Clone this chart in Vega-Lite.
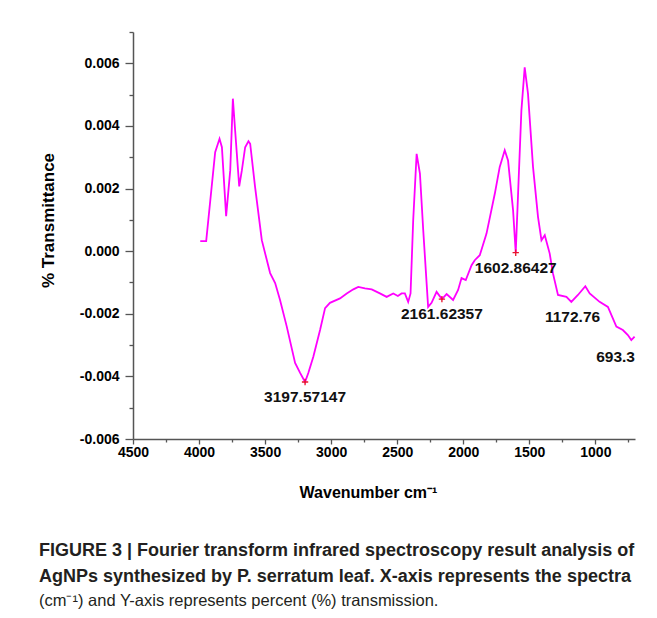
{
  "$schema": "https://vega.github.io/schema/vega-lite/v6.json",
  "autosize": {"type": "none"},
  "width": 502,
  "height": 407,
  "padding": {"left": 133, "top": 32, "right": 22, "bottom": 179},
  "background": "white",
  "config": {"view": {"stroke": null}},
  "title": {
    "text": ["FIGURE 3 | Fourier transform infrared spectroscopy result analysis of", "AgNPs synthesized by P. serratum leaf. X-axis represents the spectra"],
    "subtitle": "(cm⁻¹) and Y-axis represents percent (%) transmission.",
    "orient": "bottom",
    "anchor": "start",
    "font": "Liberation Sans",
    "fontSize": 18,
    "fontWeight": "bold",
    "color": "#231f20",
    "lineHeight": 26,
    "offset": 42,
    "subtitleFont": "Liberation Sans",
    "subtitleFontSize": 16.5,
    "subtitleColor": "#231f20",
    "subtitleLineHeight": 26,
    "subtitlePadding": 7
  },
  "resolve": {"axis": {"x": "independent", "y": "independent"}},
  "datasets": {
    "spectrum": [
      {"wn": 3991, "t": 0.00032}, {"wn": 3946, "t": 0.00032}, {"wn": 3878, "t": 0.00316}, {"wn": 3845, "t": 0.00359},
      {"wn": 3827, "t": 0.00332}, {"wn": 3795, "t": 0.00112}, {"wn": 3764, "t": 0.00258}, {"wn": 3744, "t": 0.00487},
      {"wn": 3727, "t": 0.00386}, {"wn": 3696, "t": 0.00207}, {"wn": 3676, "t": 0.00258}, {"wn": 3651, "t": 0.00332},
      {"wn": 3626, "t": 0.00351}, {"wn": 3613, "t": 0.00343}, {"wn": 3576, "t": 0.00205}, {"wn": 3525, "t": 0.00035},
      {"wn": 3462, "t": -0.0007}, {"wn": 3424, "t": -0.00102}, {"wn": 3387, "t": -0.00156}, {"wn": 3336, "t": -0.00241},
      {"wn": 3273, "t": -0.00357}, {"wn": 3235, "t": -0.00389}, {"wn": 3197.57, "t": -0.00418}, {"wn": 3173, "t": -0.00389},
      {"wn": 3135, "t": -0.00337}, {"wn": 3084, "t": -0.00252}, {"wn": 3046, "t": -0.00182}, {"wn": 3009, "t": -0.00165},
      {"wn": 2933, "t": -0.00151}, {"wn": 2882, "t": -0.00135}, {"wn": 2832, "t": -0.00122}, {"wn": 2795, "t": -0.00114},
      {"wn": 2744, "t": -0.00119}, {"wn": 2693, "t": -0.00122}, {"wn": 2631, "t": -0.00135}, {"wn": 2580, "t": -0.00146},
      {"wn": 2530, "t": -0.00135}, {"wn": 2495, "t": -0.00143}, {"wn": 2467, "t": -0.00135}, {"wn": 2442, "t": -0.00135},
      {"wn": 2417, "t": -0.00162}, {"wn": 2399, "t": -0.00135}, {"wn": 2379, "t": 0.00099}, {"wn": 2353, "t": 0.00311},
      {"wn": 2328, "t": 0.00248}, {"wn": 2303, "t": 0.00067}, {"wn": 2266, "t": -0.00178}, {"wn": 2240, "t": -0.00165},
      {"wn": 2202, "t": -0.0013}, {"wn": 2161.62, "t": -0.00153}, {"wn": 2126, "t": -0.00137}, {"wn": 2077, "t": -0.00156},
      {"wn": 2039, "t": -0.00124}, {"wn": 2013, "t": -0.00086}, {"wn": 1981, "t": -0.00092}, {"wn": 1937, "t": -0.00045},
      {"wn": 1913, "t": -0.00029}, {"wn": 1875, "t": -0.00013}, {"wn": 1824, "t": 0.00056}, {"wn": 1761, "t": 0.00184},
      {"wn": 1724, "t": 0.00269}, {"wn": 1686, "t": 0.00322}, {"wn": 1661, "t": 0.0029}, {"wn": 1623, "t": 0.00131},
      {"wn": 1602.86, "t": -0.00005}, {"wn": 1585, "t": 0.00184}, {"wn": 1560, "t": 0.00449}, {"wn": 1535, "t": 0.00587},
      {"wn": 1510, "t": 0.00503}, {"wn": 1472, "t": 0.00269}, {"wn": 1434, "t": 0.00109}, {"wn": 1408, "t": 0.00035},
      {"wn": 1383, "t": 0.00051}, {"wn": 1346, "t": -0.00007}, {"wn": 1321, "t": -0.00071}, {"wn": 1283, "t": -0.0014},
      {"wn": 1219, "t": -0.00146}, {"wn": 1182, "t": -0.00162}, {"wn": 1132, "t": -0.0014}, {"wn": 1076, "t": -0.00112},
      {"wn": 1043, "t": -0.00135}, {"wn": 968, "t": -0.00162}, {"wn": 905, "t": -0.00178}, {"wn": 841, "t": -0.00241},
      {"wn": 792, "t": -0.00252}, {"wn": 754, "t": -0.00268}, {"wn": 728, "t": -0.00284}, {"wn": 703, "t": -0.00273}
    ],
    "peaks": [
      {"wn": 3197.57, "t": -0.00418, "label": "3197.57147"},
      {"wn": 2161.62, "t": -0.00153, "label": "2161.62357"},
      {"wn": 1602.86, "t": -0.00005, "label": "1602.86427"}
    ],
    "labels": [
      {"wn": 3197.57, "t": -0.00418, "label": "3197.57147"},
      {"wn": 2161.62, "t": -0.00153, "label": "2161.62357"},
      {"wn": 1602.86, "t": -0.00005, "label": "1602.86427"},
      {"wn": 1172.76, "t": -0.00163, "label": "1172.76"}
    ],
    "endlabel": [
      {"wn": 700, "t": -0.00285, "label": "693.3"}
    ]
  },
  "layer": [
    {
      "data": {"name": "spectrum"},
      "mark": {"type": "line", "color": "#ff00ff", "strokeWidth": 1.8},
      "encoding": {
        "x": {
          "field": "wn", "type": "quantitative", "sort": null,
          "scale": {"domain": [4500, 700], "nice": false, "zero": false},
          "axis": {
            "orient": "bottom",
            "title": "Wavenumber cm⁻¹",
            "titleFont": "Liberation Sans", "titleFontSize": 16, "titleFontWeight": "bold", "titleColor": "black",
            "titleX": 235, "titleY": 58, "titleBaseline": "alphabetic", "titleAlign": "center",
            "values": [4500, 4000, 3500, 3000, 2500, 2000, 1500, 1000],
            "format": "d",
            "labelFont": "Liberation Sans", "labelFontSize": 14, "labelFontWeight": "bold", "labelColor": "black",
            "labelPadding": 1, "labelOverlap": false, "labelFlush": false,
            "tickSize": 5,
            "tickColor": "#555555", "tickWidth": 1.3,
            "domainColor": "#555555", "domainWidth": 1.5, "grid": false
          }
        },
        "y": {
          "field": "t", "type": "quantitative",
          "scale": {"domain": [-0.006, 0.007], "nice": false, "zero": false},
          "axis": {
            "orient": "left",
            "title": "% Transmittance",
            "titleFont": "Liberation Sans", "titleFontSize": 17, "titleFontWeight": "bold", "titleColor": "black",
            "titleX": -80, "titleY": 188, "titleBaseline": "alphabetic", "titleAlign": "center", "titleAngle": -90,
            "values": [-0.006, -0.004, -0.002, 0, 0.002, 0.004, 0.006],
            "labelExpr": "replace(format(datum.value, '.3f'), '−', '-')",
            "labelFont": "Liberation Sans", "labelFontSize": 14, "labelFontWeight": "bold", "labelColor": "black",
            "labelPadding": 6, "labelOverlap": false, "labelFlush": false,
            "tickSize": 8,
            "tickColor": "#555555", "tickWidth": 1.3,
            "domainColor": "#555555", "domainWidth": 1.5, "grid": false
          }
        }
      }
    },
    {
      "data": {"name": "peaks"},
      "mark": {"type": "point", "shape": "M-1,0H1M0,-1V1", "filled": false, "stroke": "#e8132b", "strokeWidth": 1.3, "size": 40, "opacity": 1},
      "encoding": {
        "x": {
          "field": "wn", "type": "quantitative",
          "axis": {"orient": "bottom", "title": null, "values": [4250, 3750, 3250, 2750, 2250, 1750, 1250, 750], "labels": false, "domain": false, "tickSize": 3, "tickColor": "#555555", "tickWidth": 1.3, "grid": false}
        },
        "y": {
          "field": "t", "type": "quantitative",
          "axis": {"orient": "left", "title": null, "values": [-0.005, -0.003, -0.001, 0.001, 0.003, 0.005, 0.007], "labels": false, "domain": false, "tickSize": 4, "tickColor": "#555555", "tickWidth": 1.3, "grid": false}
        }
      }
    },
    {
      "data": {"name": "labels"},
      "mark": {"type": "text", "font": "Liberation Sans", "fontSize": 15.5, "fontWeight": "bold", "color": "#111111", "align": "center", "baseline": "middle", "dy": 15},
      "encoding": {
        "x": {"field": "wn", "type": "quantitative", "axis": null},
        "y": {"field": "t", "type": "quantitative", "axis": null},
        "text": {"field": "label"}
      }
    },
    {
      "data": {"name": "endlabel"},
      "mark": {"type": "text", "font": "Liberation Sans", "fontSize": 15.5, "fontWeight": "bold", "color": "#111111", "align": "right", "baseline": "middle", "dy": 17},
      "encoding": {
        "x": {"field": "wn", "type": "quantitative", "axis": null},
        "y": {"field": "t", "type": "quantitative", "axis": null},
        "text": {"field": "label"}
      }
    }
  ]
}
